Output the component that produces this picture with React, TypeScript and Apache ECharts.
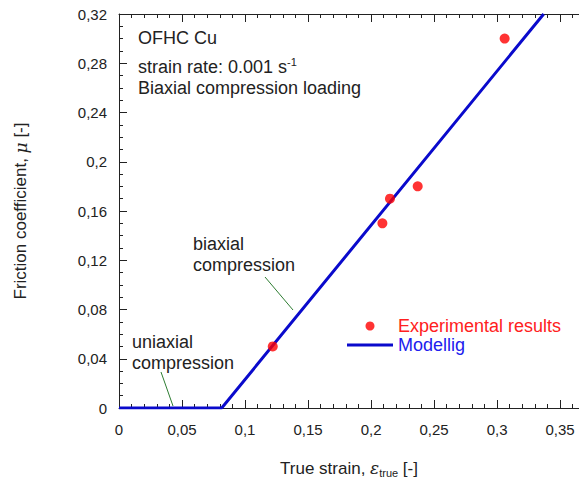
import React, { useEffect, useRef } from "react";
import * as echarts from "echarts";

const expStrain = [0.122, 0.209, 0.215, 0.237, 0.306];
const expFriction = [0.05, 0.15, 0.17, 0.18, 0.30];

const modelStrain = [0, 0.0815, 0.337];
const modelFriction = [0, 0, 0.32];

const xTicks = [0, 0.05, 0.1, 0.15, 0.2, 0.25, 0.3, 0.35];
const yTicks = [0, 0.04, 0.08, 0.12, 0.16, 0.2, 0.24, 0.28, 0.32];

const fmt = (v: number) => String(+v.toFixed(4)).replace(".", ",");
const fmtIn = (ticks: number[]) => (v: number) =>
  ticks.some((t) => Math.abs(t - v) < 1e-9) ? fmt(v) : "";

export default function App() {
  const ref = useRef<HTMLDivElement>(null);
  useEffect(() => {
    const chart = echarts.init(ref.current!, null, { renderer: "svg" });
    const font = "Liberation Sans, Arial, sans-serif";
    const axisCol = "#222";
    chart.setOption({
      animation: false,
      textStyle: { fontFamily: font },
      grid: { left: 119, top: 14, right: 0, bottom: 76, outerBoundsMode: "none", containLabel: false },
      xAxis: [
        {
          type: "value",
          min: xTicks[0],
          max: 0.365,
          interval: 0.05,
          position: "bottom",
          axisLine: { lineStyle: { color: axisCol, width: 1 } },
          axisTick: { inside: true, length: 8, lineStyle: { color: axisCol } },
          minorTick: { show: true, splitNumber: 5, length: 4, lineStyle: { color: axisCol } },
          splitLine: { show: false },
          axisLabel: { formatter: fmtIn(xTicks), color: axisCol, fontSize: 15, margin: 14 },
          name: "{t|True strain, }{e|ε}{s|true}{t| [-]}",
          nameLocation: "middle",
          nameGap: 50,
          nameTextStyle: {
            rich: {
              t: { fontSize: 17, color: axisCol, fontFamily: font, lineHeight: 20 },
              e: { fontSize: 17, color: axisCol, fontStyle: "italic", fontFamily: "DejaVu Serif", lineHeight: 20 },
              s: { fontSize: 11, color: axisCol, fontFamily: font, lineHeight: 10, verticalAlign: "bottom" },
            },
          },
        },
        {
          type: "value",
          min: xTicks[0],
          max: 0.365,
          interval: 0.05,
          position: "top",
          axisLine: { lineStyle: { color: axisCol, width: 1 } },
          axisTick: { inside: true, length: 8, lineStyle: { color: axisCol } },
          minorTick: { show: true, splitNumber: 5, length: 4, lineStyle: { color: axisCol } },
          splitLine: { show: false },
          axisLabel: { show: false },
        },
      ],
      yAxis: {
        type: "value",
        min: yTicks[0],
        max: yTicks[yTicks.length - 1],
        interval: 0.04,
        axisLine: { show: true, lineStyle: { color: axisCol, width: 1 } },
        axisTick: { show: true, inside: true, length: 8, lineStyle: { color: axisCol } },
        minorTick: { show: true, splitNumber: 4, length: 4, lineStyle: { color: axisCol } },
        splitLine: { show: false },
        axisLabel: { formatter: fmtIn(yTicks), color: axisCol, fontSize: 15, margin: 12 },
        name: "{t|Friction coefficient, }{m|μ}{t| [-]}",
        nameLocation: "middle",
        nameGap: 90,
        nameTextStyle: {
          rich: {
            t: { fontSize: 17, color: axisCol, fontFamily: font },
            m: { fontSize: 17, color: axisCol, fontStyle: "italic", fontFamily: "DejaVu Serif" },
          },
        },
      },
      legend: {
        orient: "vertical",
        left: 342,
        top: 312,
        itemWidth: 46,
        itemHeight: 9,
        itemGap: 1,
        textStyle: { fontSize: 18, fontFamily: font, lineHeight: 18 },
        data: [
          { name: "Experimental results", icon: "circle", textStyle: { color: "#ff2020" } },
          { name: "Modellig", icon: "path://M0,0 L46,0 L46,3 L0,3 Z", textStyle: { color: "#2020ee" } },
        ],
      },
      series: [
        {
          name: "Modellig",
          type: "line",
          data: modelStrain.map((x, i) => [x, modelFriction[i]]),
          symbol: "none",
          lineStyle: { color: "#0a0acc", width: 3 },
          itemStyle: { color: "#0a0acc" },
          z: 2,
        },
        {
          name: "Experimental results",
          type: "scatter",
          data: expStrain.map((x, i) => [x, expFriction[i]]),
          symbol: "circle",
          symbolSize: 10,
          itemStyle: { color: "#ff0000" },
          z: 3,
        },
      ],
      graphic: [
        { type: "text", left: 138, top: 29, style: { text: "OFHC Cu", fontSize: 18, fill: "#222", fontFamily: font } },
        {
          type: "text",
          left: 138,
          top: 56,
          style: {
            text: "{a|strain rate: 0.001 s}{b|-1}",
            fill: "#222",
            rich: {
              a: { fontSize: 18, fontFamily: font, lineHeight: 22, fill: "#222" },
              b: { fontSize: 11, fontFamily: font, lineHeight: 12, verticalAlign: "top", fill: "#222" },
            },
          },
        },
        { type: "text", left: 138, top: 79, style: { text: "Biaxial compression loading", fontSize: 18, fill: "#222", fontFamily: font } },
        { type: "text", left: 193, top: 233, style: { text: "biaxial\ncompression", fontSize: 18, lineHeight: 21, fill: "#222", fontFamily: font } },
        { type: "text", left: 132, top: 331, style: { text: "uniaxial\ncompression", fontSize: 18, lineHeight: 21, fill: "#222", fontFamily: font } },
        { type: "line", shape: { x1: 265, y1: 277, x2: 293, y2: 310 }, style: { stroke: "#2e7d32", lineWidth: 1 } },
        { type: "line", shape: { x1: 161, y1: 372, x2: 173, y2: 406 }, style: { stroke: "#2e7d32", lineWidth: 1 } },
      ],
    });
    return () => chart.dispose();
  }, []);
  return <div ref={ref} style={{ position: "absolute", left: 0, top: 0, width: 579, height: 484 }} />;
}
